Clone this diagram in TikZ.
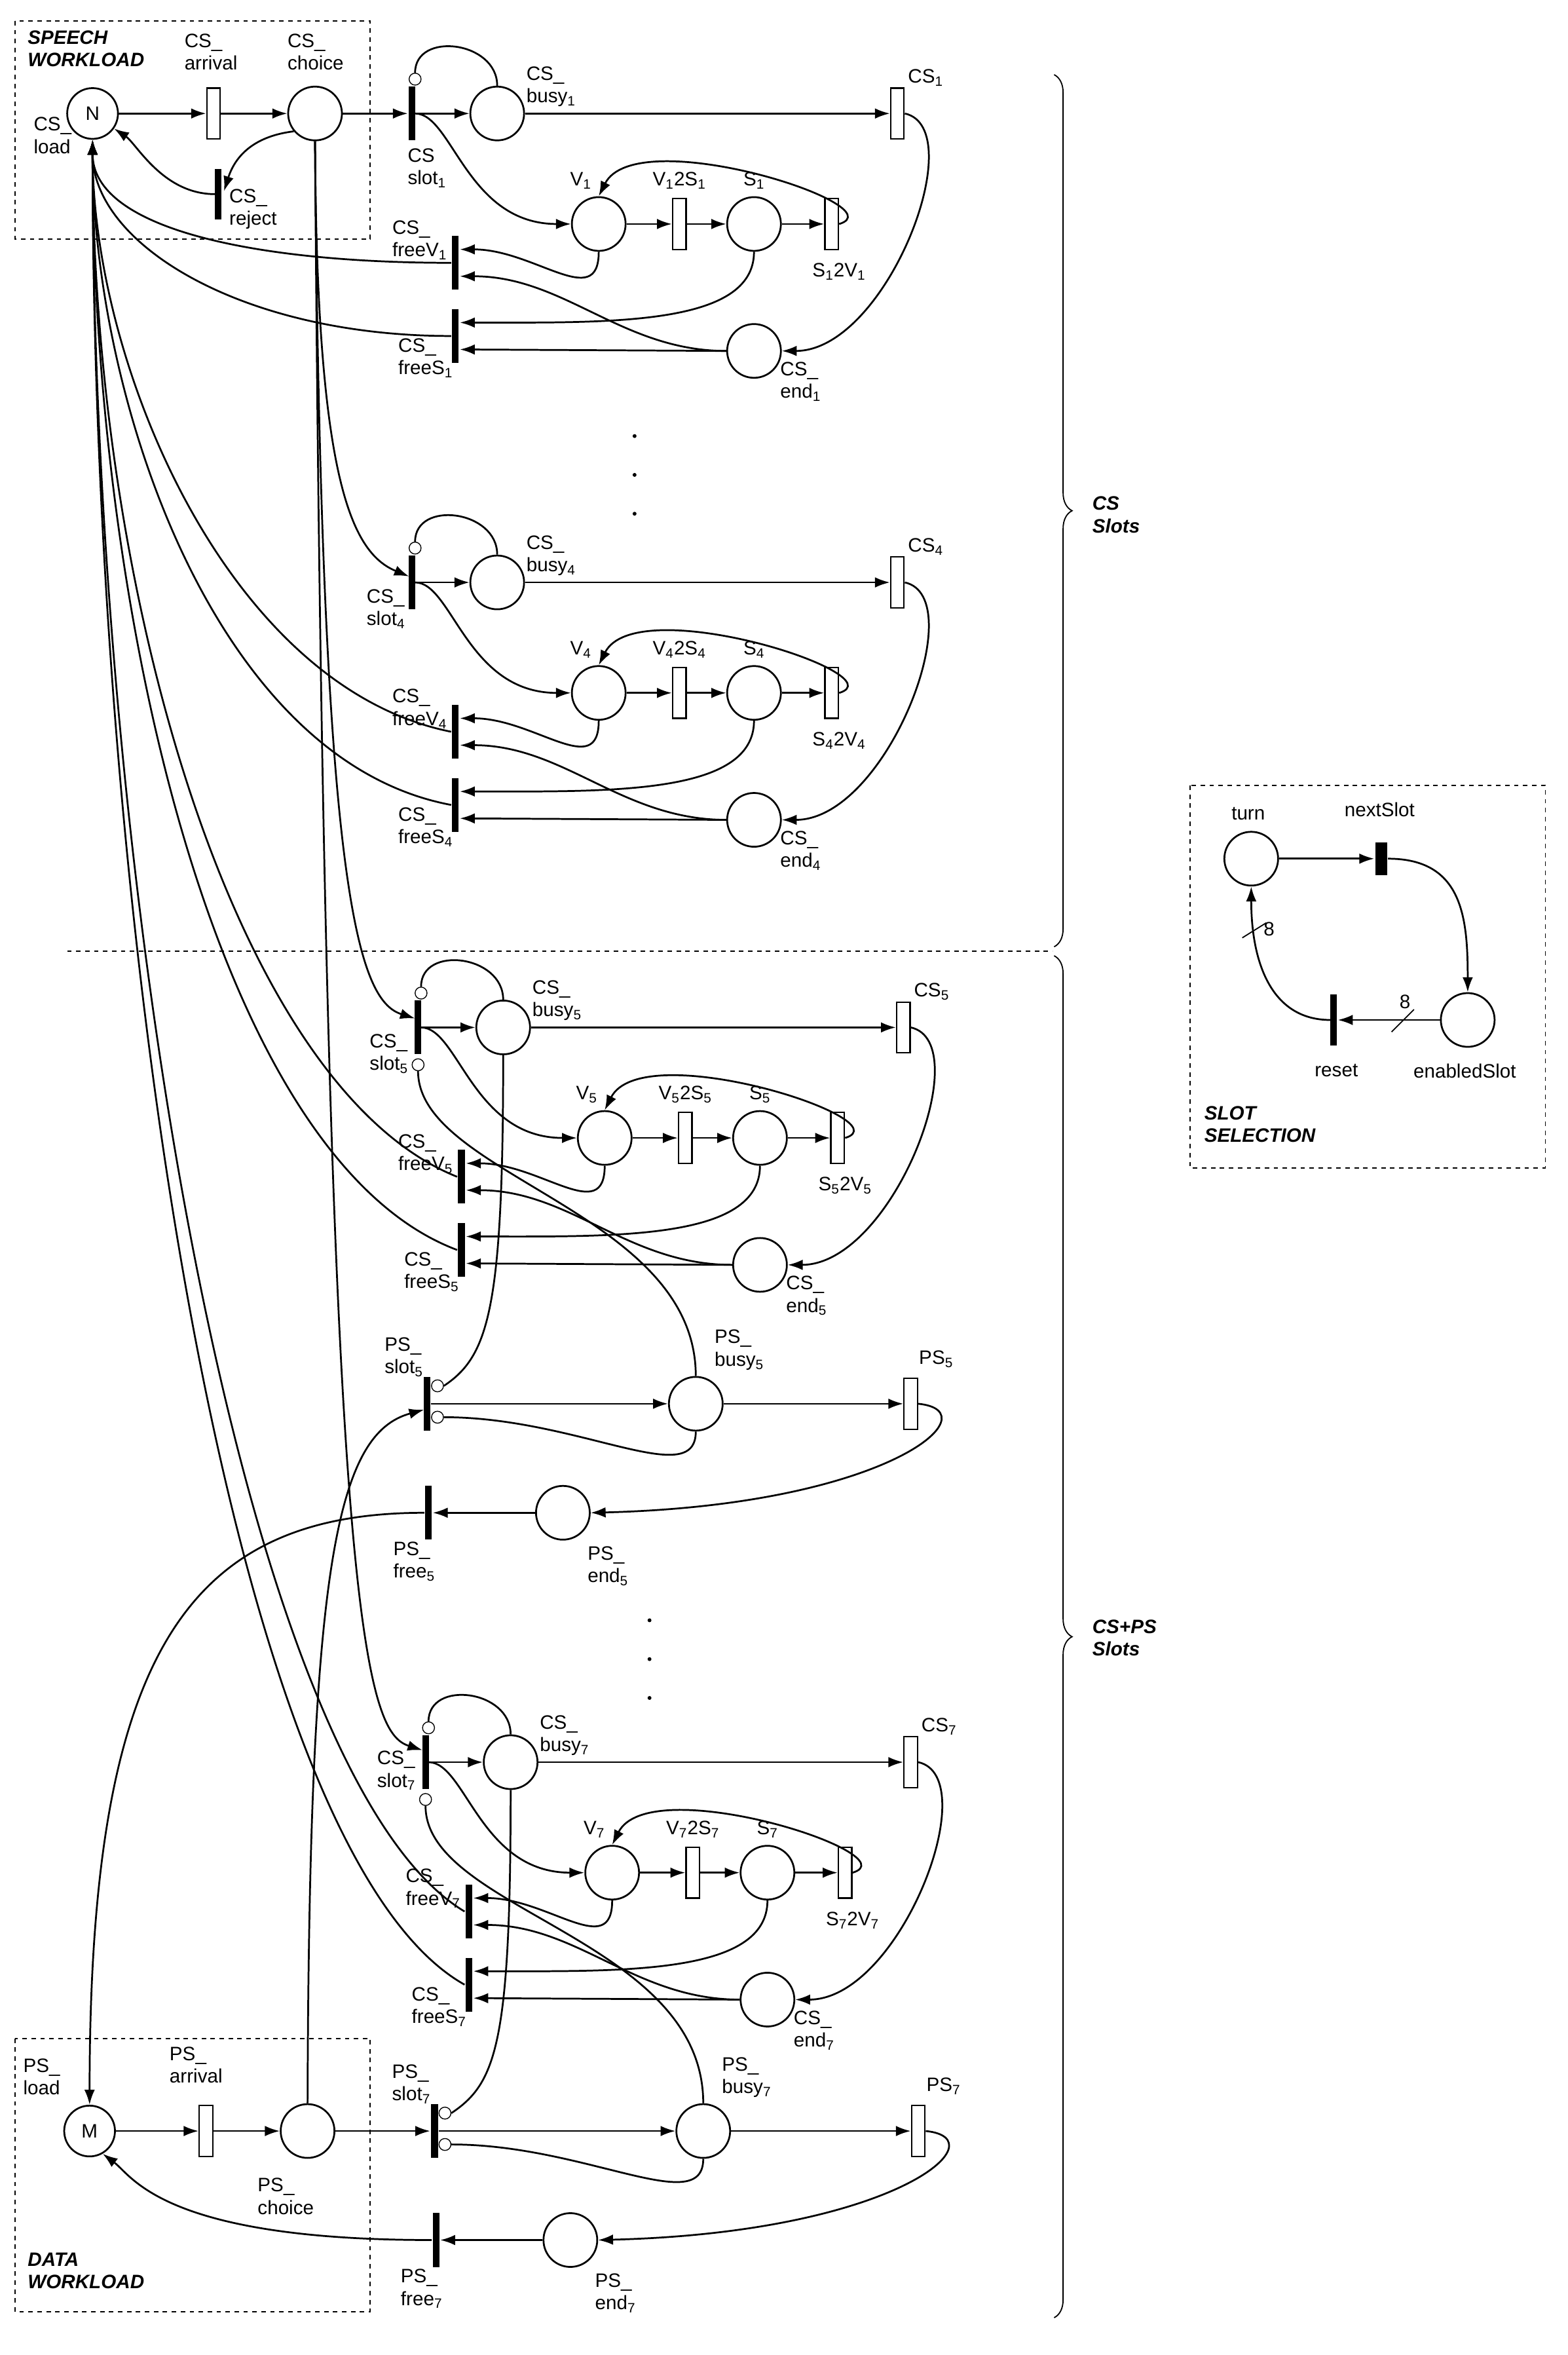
\documentclass[tikz,border=0pt]{standalone}
\usepackage{fontspec}
\setmainfont{Liberation Sans}
\usetikzlibrary{arrows.meta,calc,decorations.pathreplacing}
\newcommand\sbs[1]{\textsubscript{#1}}
\tikzset{
  every picture/.style={x=1pt,y=-1pt},
  pl/.style={circle,draw,line width=1.2pt,minimum size=36pt,inner sep=0pt,fill=white},
  wt/.style={rectangle,draw,line width=1pt,fill=white,minimum width=9pt,minimum height=34pt,inner sep=0pt},
  bt/.style={rectangle,fill=black,minimum width=4.5pt,minimum height=36pt,inner sep=0pt},
  inh/.style={circle,draw,fill=white,line width=0.6pt,minimum size=8pt,inner sep=0pt},
  arr/.style={-{Latex[length=10pt,width=7pt]}},
  lbl/.style={font=\fontsize{13}{15}\selectfont,align=left,inner sep=0pt},
  ttl/.style={font=\fontsize{13}{15}\selectfont\bfseries\itshape,align=left,inner sep=0pt},
  frame/.style={draw,dashed,line width=0.8pt},
}
\newcommand\csslot[4]{%
\begin{scope}[shift={(#3,#4)}]
\node[bt] (slot#1) at (0,0) {};
\node[inh] (ih#1) at (2,-23) {};
\node[pl] (busy#1) at (57,0) {};
\node[wt] (cst#1) at (325,0) {};
\node[pl] (V#1) at (125,74) {};
\node[wt] (VS#1) at (179,74) {};
\node[pl] (S#1) at (229,74) {};
\node[wt] (SV#1) at (281,74) {};
\node[bt] (fV#1) at (29,100) {};
\node[bt] (fS#1) at (29,149) {};
\node[pl] (end#1) at (229,159) {};
\node[lbl,anchor=south west] at (76,-4) {CS\_\\busy\sbs{#2}};
\node[lbl] at (344,-24) {CS\sbs{#2}};
\node[lbl] at (113,45) {V\sbs{#2}};
\node[lbl] at (179,45) {V\sbs{#2}2S\sbs{#2}};
\node[lbl] at (229,45) {S\sbs{#2}};
\node[lbl] at (286,106) {S\sbs{#2}2V\sbs{#2}};
\node[lbl,anchor=north east] at (24,71) {CS\_\\freeV\sbs{#2}};
\node[lbl,anchor=north east] at (28,150) {CS\_\\freeS\sbs{#2}};
\node[lbl,anchor=north west] at (246,166) {CS\_\\end\sbs{#2}};
\draw[arr] (slot#1) -- (busy#1);
\draw (busy#1.north) .. controls +(0,-30) and +(0,-28) .. (ih#1.north);
\draw[arr] (busy#1) -- (cst#1);
\draw[arr] (cst#1.east) .. controls +(45,10) and +(70,0) .. (end#1.east);
\draw[arr] ($(slot#1)+(2,0)$) .. controls +(25,0) and +(-70,0) .. (V#1.west);
\draw[arr] (V#1) -- (VS#1);
\draw[arr] (VS#1) -- (S#1);
\draw[arr] (S#1) -- (SV#1);
\draw[arr] (SV#1.east) .. controls +(40,-12) and +(25,-50) .. (V#1.north);
\draw[arr] (V#1.south) .. controls +(0,40) and +(50,0) .. ($(fV#1)+(3,-9)$);
\draw[arr] (end#1.west) .. controls +(-70,0) and +(70,0) .. ($(fV#1)+(3,9)$);
\draw[arr] (S#1.south) .. controls +(0,50) and +(100,0) .. ($(fS#1)+(3,-9)$);
\draw[arr] (end#1.west) -- ($(fS#1)+(3,9)$);
\end{scope}}
\newcommand\psslot[4]{%
\begin{scope}[shift={(#3,#4)}]
\node[bt] (pslot#1) at (0,0) {};
\node[inh] (pti#1) at (7,-12) {};
\node[inh] (pbi#1) at (7,9) {};
\node[pl] (pbusy#1) at (180,0) {};
\node[wt] (pst#1) at (324,0) {};
\node[pl] (pend#1) at (91,73) {};
\node[bt] (pfree#1) at (1,73) {};
\node[lbl,anchor=north east] at (-2,-45) {PS\_\\slot\sbs{#2}};
\node[lbl,anchor=north west] at (192,-50) {PS\_\\busy\sbs{#2}};
\node[lbl] at (341,-30) {PS\sbs{#2}};
\node[lbl,anchor=north west] at (107,95) {PS\_\\end\sbs{#2}};
\node[lbl,anchor=north east] at (6,92) {PS\_\\free\sbs{#2}};
\draw[arr] (pslot#1) -- (pbusy#1);
\draw[arr] (pbusy#1) -- (pst#1);
\draw[arr] (pst#1.east) .. controls +(50,5) and +(200,-5) .. (pend#1.east);
\draw[arr] (pend#1) -- (pfree#1);
\draw (pbusy#1.south) .. controls +(0,40) and +(90,0) .. (pbi#1.east);
\end{scope}}
\begin{document}
\begin{tikzpicture}[line width=1.2pt]
\useasboundingbox (0,0) rectangle (1050,1577);
% speech workload
\draw[frame] (10,14) rectangle (248,160);
\node[ttl,anchor=north west] at (18,20) {SPEECH\\WORKLOAD};
\node[pl,minimum size=34pt] (N) at (62,76) {\fontsize{13}{15}\selectfont N};
\node[lbl,anchor=north west] at (22,78) {CS\_\\load};
\node[wt] (arr1) at (143,76) {};
\node[lbl,anchor=north west] at (123,22) {CS\_\\arrival};
\node[pl] (choice) at (211,76) {};
\node[lbl,anchor=north west] at (192,22) {CS\_\\choice};
\node[bt,minimum height=34pt] (reject) at (146,130) {};
\node[lbl,anchor=north west] at (153,126) {CS\_\\reject};
\draw[arr] (N) -- (arr1);
\draw[arr] (arr1) -- (choice);
\draw[arr] (choice.220) .. controls +(-25,3) and +(8,-25) .. ($(reject)+(4,-2)$);
\draw[arr] ($(reject)+(-2,0)$) .. controls +(-35,0) and +(15,10) .. (N.-35);
% CS slots
\csslot{a}{1}{276}{76}
\csslot{b}{4}{276}{390}
\csslot{c}{5}{280}{688}
\csslot{d}{7}{285}{1180}
\node[lbl,anchor=north] at (286,99) {CS\\slot\sbs{1}};
\node[lbl,anchor=north east] at (272,394) {CS\_\\slot\sbs{4}};
\node[lbl,anchor=north east] at (274,692) {CS\_\\slot\sbs{5}};
\node[lbl,anchor=north east] at (279,1172) {CS\_\\slot\sbs{7}};
\draw[arr] (choice) -- (slota);
\draw[arr] (choice.south) .. controls (212,320) and (235,370) .. ($(slotb)+(-2,-4)$);
\draw[arr] (choice.south) .. controls (215,600) and (240,670) .. ($(slotc)+(-2,-6)$);
\draw[arr] (choice.south) .. controls (218,1090) and (245,1160) .. ($(slotd)+(-2,-8)$);
\draw[arr] (fVa.west) .. controls +(-130,0) and +(0,60) .. (N.south);
\draw[arr] (fSa.west) .. controls +(-140,0) and +(0,70) .. (N.south);
\draw[arr] (fVb.west) .. controls +(-150,-30) and +(0,150) .. (N.south);
\draw[arr] (fSb.west) .. controls +(-160,-30) and +(0,170) .. (N.south);
\draw[arr] (fVc.west) .. controls +(-150,-60) and +(0,300) .. (N.south);
\draw[arr] (fSc.west) .. controls +(-160,-60) and +(0,320) .. (N.south);
\draw[arr] (fVd.west) .. controls +(-150,-90) and +(0,500) .. (N.south);
\draw[arr] (fSd.west) .. controls +(-160,-90) and +(0,520) .. (N.south);
\foreach \y in {292,318,344}{\fill (425,\y) circle (1.3);}
% PS slots
\node[inh] (ihbc) at (280,713) {};
\node[inh] (ihbd) at (285,1205) {};
\psslot{c}{5}{286}{940}
\psslot{d}{7}{291}{1427}
\draw (busyc.south) .. controls +(0,170) and +(30,-20) .. (ptic.east);
\draw (ihbc.south) .. controls +(0,70) and +(0,-110) .. (pbusyc.north);
\draw (busyd.south) .. controls +(0,170) and +(30,-20) .. (ptid.east);
\draw (ihbd.south) .. controls +(0,70) and +(0,-110) .. (pbusyd.north);
\foreach \y in {1085,1111,1137}{\fill (435,\y) circle (1.3);}
% data workload
\draw[frame] (10,1365) rectangle (248,1548);
\node[pl,minimum size=34pt] (M) at (60,1427) {\fontsize{13}{15}\selectfont M};
\node[lbl,anchor=north west] at (15,1378) {PS\_\\load};
\node[wt] (parr) at (138,1427) {};
\node[lbl,anchor=north west] at (113,1370) {PS\_\\arrival};
\node[pl] (pchoice) at (206,1427) {};
\node[lbl,anchor=north west] at (172,1458) {PS\_\\choice};
\node[ttl,anchor=north west] at (18,1508) {DATA\\WORKLOAD};
\draw[arr] (M) -- (parr);
\draw[arr] (parr) -- (pchoice);
\draw[arr] (pchoice.north) .. controls (207,1050) and (225,960) .. ($(pslotc)+(-2,4)$);
\draw[arr] (pchoice.east) .. controls +(40,0) and +(-30,0) .. (pslotd);
\draw[arr] (pfreec.west) .. controls +(-160,0) and +(0,-300) .. (M.north);
\draw[arr] (pfreed.west) .. controls +(-180,0) and +(20,15) .. (M.-60);
% separator and braces
\draw[dashed,line width=0.8pt] (45,637) -- (705,637);
\draw[decorate,decoration={brace,amplitude=12pt},line width=0.8pt] (706,50) -- (706,634);
\draw[decorate,decoration={brace,amplitude=12pt},line width=0.8pt] (706,640) -- (706,1552);
\node[ttl,anchor=north west] at (731,332) {CS\\Slots};
\node[ttl,anchor=north west] at (731,1084) {CS+PS\\Slots};
% slot selection
\draw[frame] (797,526) rectangle (1035,782);
\node[pl] (turn) at (838,575) {};
\node[lbl] at (836,545) {turn};
\node[rectangle,fill=black,minimum width=8pt,minimum height=22pt,inner sep=0pt] (next) at (925,575) {};
\node[lbl] at (924,542) {nextSlot};
\node[pl] (enab) at (983,683) {};
\node[lbl] at (981,717) {enabledSlot};
\node[bt,minimum height=34pt] (reset) at (893,683) {};
\node[lbl] at (895,717) {reset};
\node[ttl,anchor=north west] at (806,740) {SLOT\\SELECTION};
\draw[arr] (turn) -- (next);
\draw[arr] (next.east) .. controls +(50,0) and +(0,-50) .. (enab.north);
\draw[arr] (enab) -- ($(reset)+(3,0)$);
\draw[arr] ($(reset)+(-2,0)$) .. controls +(-40,0) and +(0,50) .. (turn.south);
\draw[line width=0.8pt] (932,691) -- (947,676);
\node[lbl] at (941,671) {8};
\draw[line width=0.8pt] (832,628) -- (848,618);
\node[lbl] at (850,622) {8};
\end{tikzpicture}
\end{document}
